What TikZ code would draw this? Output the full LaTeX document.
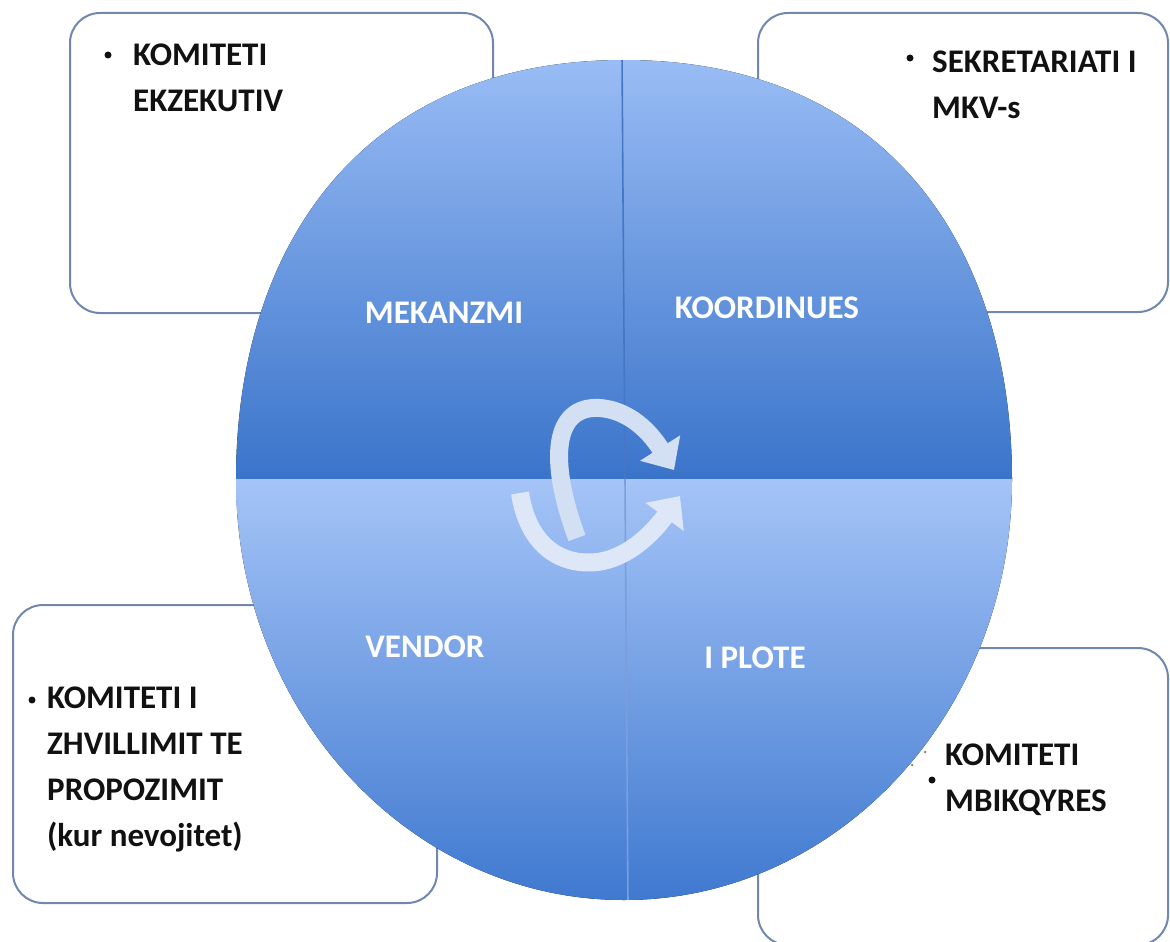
\documentclass[tikz,border=0pt]{standalone}
\usepackage{fontspec}
\setmainfont{Carlito}
\usetikzlibrary{arrows.meta}
\definecolor{boxline}{HTML}{7088AD}
\definecolor{topA}{HTML}{9ABDF5}
\definecolor{topM}{HTML}{6496E1}
\definecolor{topB}{HTML}{3A74CA}
\definecolor{botA}{HTML}{A5C4F7}
\definecolor{botM}{HTML}{88ADED}
\definecolor{botB}{HTML}{3E78CF}
\definecolor{divtopc}{HTML}{4677C6}
\definecolor{divbotc}{HTML}{7A9FDC}
\definecolor{arrowc}{HTML}{D3E0F4}
\definecolor{arrowd}{HTML}{DDE7F7}
\definecolor{inkc}{HTML}{111111}
\begin{document}
\begin{tikzpicture}[x=1pt,y=-1pt,
  panel/.style={draw=boxline, line width=2pt, rounded corners=30pt, fill=white, inner sep=0pt},
  itemtext/.style={font=\bfseries\fontsize{33}{46}\selectfont, align=left, anchor=north west, inner sep=0pt, text=inkc},
  sectorlabel/.style={font=\bfseries\fontsize{33}{38}\selectfont, text=white, anchor=base, inner sep=0pt},
  bulletdot/.style={circle, fill=inkc, inner sep=0pt, minimum size=7pt},
  specdot/.style={circle, fill=inkc!60, inner sep=0pt, minimum size=2.5pt},
  cyclearrow/.style={line width=18pt, -{Triangle[width=46pt,length=26pt]}}
]
\useasboundingbox (0,0) rectangle (1170,942);

% boxes
\node[panel, minimum width=423pt, minimum height=300pt] (tlbox) at (281.5,163) {};
\node[panel, minimum width=410pt, minimum height=299pt] (trbox) at (963,162.5) {};
\node[panel, minimum width=424pt, minimum height=298pt] (blbox) at (225,754) {};
\node[panel, minimum width=410pt, minimum height=297pt] (brbox) at (963,796.5) {};

% box texts
\node[bulletdot] (tlbul) at (108,55) {};
\node[itemtext] (tltext) at (133,43.5) {KOMITETI\\EKZEKUTIV};
\node[bulletdot] (trbul) at (910,58) {};
\node[itemtext] (trtext) at (932,50.5) {SEKRETARIATI I\\MKV-s};
\node[bulletdot] (blbul) at (32,700) {};
\node[itemtext] (bltext) at (47,686.5) {KOMITETI I\\ZHVILLIMIT TE\\PROPOZIMIT\\(kur nevojitet)};
\node[bulletdot] (brbul) at (932,780) {};
\node[specdot] (brdot1) at (925,752) {};
\node[specdot] (brdot2) at (912,765) {};
\node[itemtext] (brtext) at (945,743.5) {KOMITETI\\MBIKQYRES};

% circle
\begin{scope}
  \clip (236,480) .. controls (236,248) and (360,60) .. (624,60)
        .. controls (888,60) and (1012,248) .. (1012,480)
        arc[start angle=0, end angle=180, x radius=388, y radius=420] -- cycle;
  \fill[top color=topA, middle color=topM, bottom color=topB] (230,55) rectangle (1020,479);
  \fill[top color=botA, middle color=botM, bottom color=botB] (230,479) rectangle (1020,905);
  \draw[divtopc, line width=1.6pt] (622,55) -- (625,479);
  \draw[divbotc, line width=1.6pt] (625,479) -- (628,905);
\end{scope}
\coordinate (ctr) at (624,480);

% sector labels
\node[sectorlabel] (mek) at (444,323) {MEKANZMI};
\node[sectorlabel] (koo) at (767,318) {KOORDINUES};
\node[sectorlabel] (ven) at (425,657) {VENDOR};
\node[sectorlabel] (plo) at (755,668) {I PLOTE};

% cycle arrows
\coordinate (lowtail) at (520,493);
\coordinate (lowtip) at (680,496);
\coordinate (uptail) at (577,538);
\coordinate (uptip) at (674,470);
\draw[cyclearrow, draw=arrowd] (lowtail) .. controls (528,545) and (560,566) .. (597,562) .. controls (630,558) and (655,530) .. (lowtip);
\draw[cyclearrow, draw=arrowc] (uptail) .. controls (548,460) and (553,405) .. (600,408) .. controls (635,411) and (655,440) .. (uptip);
\end{tikzpicture}
\end{document}
